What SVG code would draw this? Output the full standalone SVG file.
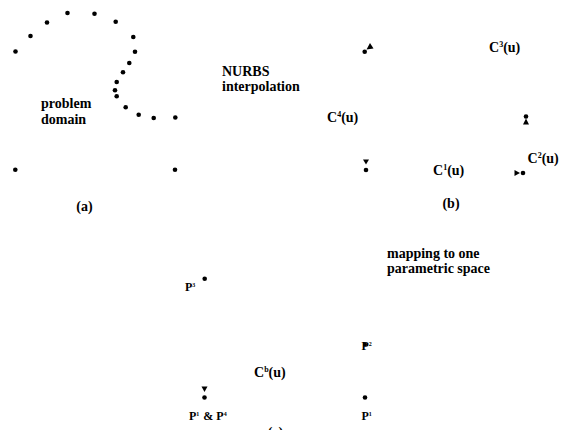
<svg xmlns="http://www.w3.org/2000/svg" width="566" height="430" viewBox="0 0 566 430">
<style>
.d{fill:#000}
.t{font-family:"Liberation Serif","Times New Roman",serif;font-weight:bold;font-size:14px;fill:#000}
.s{font-size:8px}
.p{font-family:"Liberation Serif","Times New Roman",serif;font-weight:bold;font-size:12px;fill:#000}
.ps{font-size:6px}
</style>
<rect width="566" height="430" fill="#fff"/>
<g id="panel-a">
  <g id="boundary-points">
    <circle class="d" cx="15.5" cy="51.5" r="2.3"/>
    <circle class="d" cx="30.5" cy="36" r="2.3"/>
    <circle class="d" cx="47" cy="22.5" r="2.3"/>
    <circle class="d" cx="67.5" cy="13" r="2.3"/>
    <circle class="d" cx="94.5" cy="13.7" r="2.3"/>
    <circle class="d" cx="115.7" cy="21.7" r="2.3"/>
    <circle class="d" cx="133.3" cy="37" r="2.3"/>
    <circle class="d" cx="135" cy="51.7" r="2.3"/>
    <circle class="d" cx="129.3" cy="63" r="2.3"/>
    <circle class="d" cx="123" cy="72.3" r="2.3"/>
    <circle class="d" cx="116.7" cy="82" r="2.3"/>
    <circle class="d" cx="115" cy="90.3" r="2.3"/>
    <circle class="d" cx="116.7" cy="96.3" r="2.3"/>
    <circle class="d" cx="125.7" cy="107.3" r="2.3"/>
    <circle class="d" cx="138.7" cy="114.7" r="2.3"/>
    <circle class="d" cx="153.7" cy="118" r="2.3"/>
    <circle class="d" cx="175.3" cy="117.5" r="2.3"/>
    <circle class="d" cx="15.3" cy="169.7" r="2.3"/>
    <circle class="d" cx="175" cy="169.7" r="2.3"/>
  </g>
  <text id="label-problem-domain" class="t" x="41" y="108">problem<tspan x="41" y="123.5">domain</tspan></text>
  <text id="caption-a" class="t" x="84.5" y="211" text-anchor="middle">(a)</text>
</g>
<g id="nurbs-label">
  <text class="t" x="222" y="76">NURBS<tspan x="222" y="91">interpolation</tspan></text>
</g>
<g id="panel-b">
  <g id="end-c4-top">
    <circle class="d" cx="364.7" cy="51.7" r="2.3"/>
    <polygon class="d" points="370,43 366.5,49.5 373.5,48.5"/>
  </g>
  <g id="end-c3-right">
    <circle class="d" cx="526" cy="116.5" r="2.3"/>
    <polygon class="d" points="526,118.5 523,124.5 529,124.5"/>
  </g>
  <g id="end-c4-bottom">
    <polygon class="d" points="363,159.5 369,159.5 366,164.5"/>
    <circle class="d" cx="366" cy="170" r="2.3"/>
  </g>
  <g id="end-c1-right">
    <polygon class="d" points="514.5,170 514.5,176 520,173"/>
    <circle class="d" cx="523" cy="173" r="2.3"/>
  </g>
  <text id="label-c3" class="t" x="489" y="52">C<tspan class="s" dy="-5">3</tspan><tspan dy="5">(u)</tspan></text>
  <text id="label-c4" class="t" x="327" y="122">C<tspan class="s" dy="-5">4</tspan><tspan dy="5">(u)</tspan></text>
  <text id="label-c1" class="t" x="433" y="175">C<tspan class="s" dy="-5">1</tspan><tspan dy="5">(u)</tspan></text>
  <text id="label-c2" class="t" x="527.5" y="162.5">C<tspan class="s" dy="-5">2</tspan><tspan dy="5">(u)</tspan></text>
  <text id="caption-b" class="t" x="451" y="208" text-anchor="middle">(b)</text>
</g>
<g id="mapping-label">
  <text class="t" x="387" y="258">mapping to one<tspan x="387" y="272.5">parametric space</tspan></text>
</g>
<g id="panel-c">
  <g id="point-p3">
    <circle class="d" cx="204.7" cy="278.7" r="2.3"/>
    <text class="p" x="185" y="291">P<tspan class="ps" dy="-4">3</tspan></text>
  </g>
  <g id="point-p1p4">
    <polygon class="d" points="201.5,386.5 207.5,386.5 204.5,392"/>
    <circle class="d" cx="204.5" cy="397.5" r="2.3"/>
    <text class="p" x="189" y="420">P<tspan class="ps" dy="-4">1</tspan><tspan dy="4" dx="1"> &amp; P</tspan><tspan class="ps" dy="-4">4</tspan></text>
  </g>
  <text id="label-cb" class="t" x="254" y="377">C<tspan class="s" dy="-5">b</tspan><tspan dy="5">(u)</tspan></text>
  <g id="point-p2">
    <circle class="d" cx="365" cy="344.5" r="2"/>
    <text class="p" x="361.5" y="350">P<tspan class="ps" dy="-4">2</tspan></text>
  </g>
  <g id="point-p1">
    <circle class="d" cx="365" cy="397.5" r="2.3"/>
    <text class="p" x="361.5" y="420">P<tspan class="ps" dy="-4">1</tspan></text>
  </g>
  <text id="caption-c" class="t" x="275.5" y="437" text-anchor="middle">(c)</text>
</g>
</svg>
